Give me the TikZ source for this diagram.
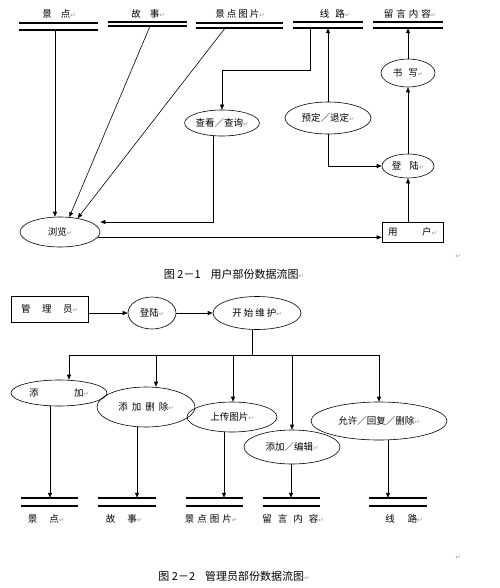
\documentclass[tikz,border=0pt]{standalone}
\usepackage{fontspec}
\newfontfamily\cjk{Noto Sans CJK SC}
\newfontfamily\djv{DejaVu Sans}
\usetikzlibrary{arrows.meta,shapes.geometric}
\newcommand\parmk{{\djv\color{black!40}\fontsize{6.5}{7}\selectfont ↵}}
\newcommand\dstore[5]{%
  \node[minimum width=#4pt, minimum height=#5pt] (#1) at (#2,#3) {};
  \draw[stl] (#1.north west) -- (#1.north east) (#1.south west) -- (#1.south east);}
\begin{document}
\begin{tikzpicture}[x=1pt,y=-1pt,
  every node/.style={font=\cjk\fontsize{9.5}{11}\selectfont, inner sep=0pt},
  proc/.style={draw, ellipse, line width=0.6pt},
  ent/.style={draw, rectangle, line width=0.6pt},
  arr/.style={line width=0.6pt, -{Triangle[length=5pt,width=4pt]}},
  flow/.style={line width=0.6pt},
  stl/.style={line width=1.8pt},
  captxt/.style={font=\cjk\fontsize{11}{13}\selectfont}
]
\useasboundingbox (0,0) rectangle (499,588);

% ---------------- Figure 2-1 ----------------
\dstore{s1}{58.5}{26.75}{79}{6.5}
\dstore{s2}{147.5}{24}{79}{4}
\dstore{s3}{239.5}{25.5}{87}{5}
\dstore{s4}{328}{25}{70}{6}
\dstore{s5}{408}{25}{70}{6}
\node (l1) at (59,14) {景\hspace{9pt}点\parmk};
\node (l2) at (148,14) {故\hspace{9pt}事\parmk};
\node (l3) at (240,14) {景\hspace{2pt}点\hspace{2pt}图\hspace{2pt}片\parmk};
\node (l4) at (335,14) {线\hspace{6pt}路\parmk};
\node (l5) at (410,14) {留\hspace{3pt}言\hspace{3pt}内\hspace{3pt}容\parmk};

\node[proc, minimum width=80pt, minimum height=30pt] (browse) at (60,232) {浏览\parmk};
\node[proc, minimum width=70pt, minimum height=26pt] (query) at (222,123) {查看／查询\parmk};
\node[proc, minimum width=86pt, minimum height=32pt] (book) at (328,118) {预定／退定\parmk};
\node[proc, minimum width=52pt, minimum height=24pt] (login1) at (408,166) {登\hspace{8pt}陆\parmk};
\node[proc, minimum width=54pt, minimum height=28pt] (write) at (408,73) {书\hspace{6pt}写\parmk};
\node[ent, minimum width=61pt, minimum height=20pt, text width=49pt, inner xsep=6pt] (user) at (412.5,232) {用\hfill 户\parmk};

\draw[arr] (55,0 |- s1.south) -- (55,0 |- browse.north);
\draw[arr] (150,0 |- s2.south) -- (browse.58);
\draw[arr] (225,0 |- s3.south) -- (browse.38);
\draw[arr] (310,0 |- s4.south) -- (310,70) -| (query.north);
\draw[arr] (213,0 |- query.south) -- (213,222) -- (browse.east |- 0,222);
\draw[arr] (book.north) -- (book.north |- s4.south);
\draw[arr] (book.south) |- (login1.west);
\draw[arr] (login1.north) -- (write.south);
\draw[arr] (write.north) -- (write.north |- s5.south);
\draw[arr] (login1.south |- user.north) -- (login1.south);
\draw[arr] (browse.-8) -- (user.west |- browse.-8);

\node[captxt] (cap1) at (234,274) {图 2－1\hspace{10pt}用户部份数据流图\parmk};
\node (pm1) at (458,256) {\parmk};

% ---------------- Figure 2-2 ----------------
\node[ent, minimum width=77pt, minimum height=26pt, text width=57pt, inner xsep=8pt] (admin) at (49.5,309) {管\hfill 理\hfill 员\parmk};
\node[proc, minimum width=48pt, minimum height=32pt] (login2) at (152,313) {登陆\parmk};
\node[proc, minimum width=88pt, minimum height=33pt] (maint) at (257,313) {开\hspace{2pt}始\hspace{2pt}维\hspace{2pt}护\parmk};

\draw[arr] (admin.east |- login2.west) -- (login2.west);
\draw[arr] (login2.east) -- (maint.west);

\coordinate (bL) at (69,355);
\coordinate (bR) at (379,355);
\draw[flow] (252,0 |- maint.south) -- (252,355);
\draw[flow] (bL) -- (bR);

\node[proc, minimum width=96pt, minimum height=26pt, text width=60pt] (add) at (59,393) {添\hfill 加\parmk};
\node[proc, minimum width=98pt, minimum height=40pt] (adddel) at (146,407) {添\hspace{4pt}加\hspace{4pt}删\hspace{4pt}除\parmk};
\node[proc, minimum width=90pt, minimum height=30pt] (upload) at (232,417) {上传图片\parmk};
\node[proc, minimum width=96pt, minimum height=34pt] (edit) at (292,447) {添加／编辑\parmk};
\node[proc, minimum width=136pt, minimum height=38pt] (allow) at (379,421) {允许／回复／删除\parmk};

\draw[arr] (bL) -- (bL |- add.north);
\draw[arr] (156,355) -- (156,0 |- adddel.north);
\draw[arr] (233,355) -- (233,0 |- upload.north);
\draw[arr] (292,355) -- (292,0 |- edit.north);
\draw[arr] (bR) -- (bR |- allow.north);

\dstore{t1}{49.5}{502}{57}{8}
\dstore{t2}{127}{502}{58}{8}
\dstore{t3}{214.5}{502}{57}{8}
\dstore{t4}{291.5}{502}{57}{8}
\dstore{t5}{398}{502}{58}{8}

\draw[arr] (50,0 |- add.south) -- (50,0 |- t1.north);
\draw[arr] (137,0 |- adddel.south) -- (137,0 |- t2.north);
\draw[arr] (224,0 |- upload.south) -- (224,0 |- t3.north);
\draw[arr] (291,0 |- edit.south) -- (291,0 |- t4.north);
\draw[arr] (388,0 |- allow.south) -- (388,0 |- t5.north);

\node (m1) at (46,519) {景\hspace{12pt}点\parmk};
\node (m2) at (124,519) {故\hspace{12pt}事\parmk};
\node (m3) at (211,519) {景\hspace{3pt}点\hspace{3pt}图\hspace{3pt}片\parmk};
\node (m4) at (293,519) {留\hspace{6pt}言\hspace{6pt}内\hspace{6pt}容\parmk};
\node (m5) at (404,519) {线\hspace{13pt}路\parmk};

\node[captxt] (cap2) at (234,576) {图 2－2\hspace{10pt}管理员部份数据流图\parmk};
\node (pm2) at (458,557) {\parmk};
\end{tikzpicture}
\end{document}
